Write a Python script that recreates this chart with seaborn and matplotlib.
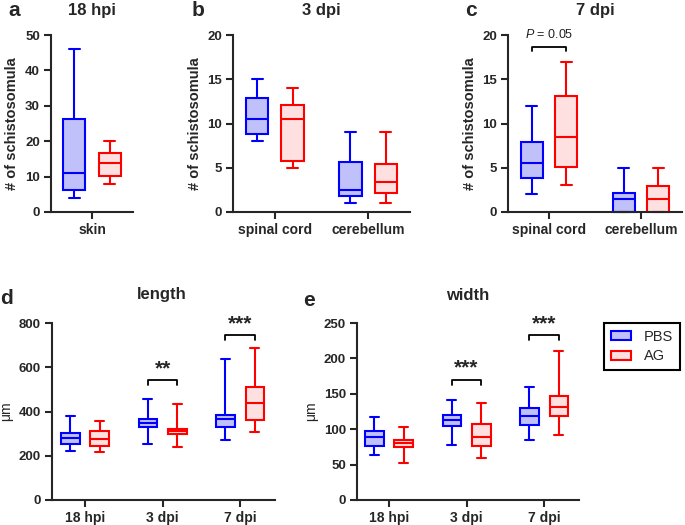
import matplotlib
matplotlib.use('Agg')
import matplotlib.pyplot as plt
import matplotlib.patches as mpatches
import seaborn as sns
import pandas as pd

W, H = 685, 525
GROUPS = ['PBS', 'AG']
EDGE = {'PBS': '#0000ff', 'AG': '#ff0000'}
FILL = {'PBS': '#c0c0fa', 'AG': '#ffe0e0'}

# five-number summaries per box: min, q1, median, q3, max
skin_cats = ['skin']
skin_pbs = [[4, 6.1, 11, 26.2, 46]]
skin_ag = [[8, 10.1, 13.9, 16.7, 20]]

tissue_cats = ['spinal cord', 'cerebellum']
dpi3_pbs = [[8, 8.8, 10.5, 12.9, 15], [1, 1.8, 2.5, 5.6, 9]]
dpi3_ag = [[5, 5.8, 10.5, 12.1, 14], [1, 2.1, 3.4, 5.4, 9]]
dpi7_pbs = [[2, 3.8, 5.5, 7.9, 12], [0, 0, 1.5, 2.2, 5]]
dpi7_ag = [[3, 5.1, 8.5, 13.1, 17], [0, 0, 1.5, 2.9, 5]]

time_cats = ['18 hpi', '3 dpi', '7 dpi']
length_pbs = [[223, 255, 282, 302, 380], [255, 329, 347, 364, 457], [272, 332, 364, 385, 638]]
length_ag = [[216, 245, 275, 314, 356], [241, 299, 314, 321, 435], [308, 362, 438, 509, 687]]
width_pbs = [[63, 76.4, 89.2, 97.2, 117.5], [77, 104.2, 113.7, 120.3, 141], [85, 106.1, 118.4, 129.7, 159.4]]
width_ag = [[52.4, 75.5, 80.7, 85.4, 102.8], [60, 76.9, 88.7, 107.5, 137.3], [91.5, 119.3, 131.1, 146.2, 210]]

# significance brackets: category index, label, bracket height
dpi7_sig = [(0, 'P', 18.7)]
length_sig = [(1, '**', 543), (2, '***', 747)]
width_sig = [(1, '***', 170), (2, '***', 233.5)]

sns.set_style('ticks')
plt.rcParams['font.family'] = ['Liberation Sans', 'DejaVu Sans']
plt.rcParams['font.weight'] = 'bold'
plt.rcParams['axes.linewidth'] = 1.5
plt.rcParams['mathtext.fontset'] = 'custom'
plt.rcParams['mathtext.it'] = 'Liberation Sans:style=italic:weight=normal'
plt.rcParams['mathtext.rm'] = 'Liberation Sans:weight=normal'


def frame(cats, pbs, ag):
    rows = []
    for g, summ in (('PBS', pbs), ('AG', ag)):
        for cat, s in zip(cats, summ):
            rows += [(cat, g, v) for v in s]
    return pd.DataFrame(rows, columns=['cat', 'group', 'value'])


def px_axes(fig, left, right, top, bottom):
    return fig.add_axes([left / W, 1 - bottom / H, (right - left) / W, (bottom - top) / H])


def draw(ax, cats, pbs, ag, xlim, ylim, step, ylabel):
    df = frame(cats, pbs, ag)
    for g in GROUPS:
        sns.boxplot(data=df[df.group == g], x='cat', y='value', hue='group',
                    order=cats, hue_order=GROUPS, palette=FILL, linecolor=EDGE[g],
                    linewidth=1.5, width=0.76, gap=0.37, whis=(0, 100), dodge=True,
                    saturation=1, legend=False, ax=ax)
    for art in ax.patches + ax.lines:
        art.set_clip_on(False)
    ax.set_xlim(*xlim)
    ax.set_ylim(*ylim)
    ax.set_yticks(range(ylim[0], ylim[1] + 1, step))
    ax.set_xlabel('')
    sns.despine(ax=ax)
    ax.tick_params(width=1.5, length=5, labelsize=9.5, pad=3)
    ax.tick_params(axis='x', labelsize=10)
    if ylabel == 'μm':
        ax.set_ylabel(ylabel, fontsize=10, fontweight='normal')
    else:
        ax.set_ylabel(ylabel, fontsize=10.5, fontweight='bold')


def brackets(ax, sigs, drop, gap, size):
    for x, label, y in sigs:
        xl, xr = x - 0.19, x + 0.19
        ax.plot([xl, xl, xr, xr], [y - drop, y, y, y - drop], color='black',
                lw=1.3, clip_on=False)
        if label == 'P':
            ax.text(x, y + gap, r'$\mathit{P}$ = 0.05', ha='center', va='bottom',
                    fontsize=9, fontweight='normal', color='#222222')
        else:
            ax.text(x, y + gap, label, ha='center', va='bottom',
                    fontsize=size, fontweight='bold')


fig = plt.figure(figsize=(W / 100, H / 100), dpi=100)

ax_a = px_axes(fig, 51, 133, 35, 212)
draw(ax_a, skin_cats, skin_pbs, skin_ag, (-0.44, 0.44), (0, 50), 10, '# of schistosomula')

ax_b = px_axes(fig, 233, 410, 35, 212)
draw(ax_b, tissue_cats, dpi3_pbs, dpi3_ag, (-0.45, 1.45), (0, 20), 5, '# of schistosomula')

ax_c = px_axes(fig, 508, 682, 35, 212)
draw(ax_c, tissue_cats, dpi7_pbs, dpi7_ag, (-0.446, 1.446), (0, 20), 5, '# of schistosomula')
brackets(ax_c, dpi7_sig, 0.55, 0.6, 9)

ax_d = px_axes(fig, 52, 275, 323, 500)
draw(ax_d, time_cats, length_pbs, length_ag, (-0.426, 2.45), (0, 800), 200, 'μm')
brackets(ax_d, length_sig, 22, 8, 15)

ax_e = px_axes(fig, 357, 579, 323, 500)
draw(ax_e, time_cats, width_pbs, width_ag, (-0.413, 2.45), (0, 250), 50, 'μm')
brackets(ax_e, width_sig, 7, 2.5, 15)

# panel letters and titles
for x, y, s in [(8, 10, 'a'), (192, 10, 'b'), (465, 10, 'c'), (0, 299, 'd'), (303, 300, 'e')]:
    fig.text(x / W, 1 - y / H, s, fontsize=15, fontweight='bold', ha='left', va='center')
for x, y, s in [(92, 10, '18 hpi'), (321, 10, '3 dpi'), (595, 10, '7 dpi'),
                (162, 295, 'length'), (468, 295, 'width')]:
    fig.text(x / W, 1 - y / H, s, fontsize=12, fontweight='bold', ha='center', va='center')

handles = [mpatches.Patch(facecolor=FILL[g], edgecolor=EDGE[g], linewidth=1.5, label=g)
           for g in GROUPS]
leg = fig.legend(handles=handles, loc='upper left', bbox_to_anchor=(604 / W, 1 - 323 / H),
                 frameon=True, fancybox=False, edgecolor='black', framealpha=1,
                 prop={'size': 10.5, 'weight': 'normal'}, handlelength=1.4,
                 handleheight=0.6, borderpad=0.45, labelspacing=0.4, handletextpad=0.9,
                 borderaxespad=0)
leg.get_frame().set_linewidth(1.5)

fig.savefig('out.png', dpi=100)
